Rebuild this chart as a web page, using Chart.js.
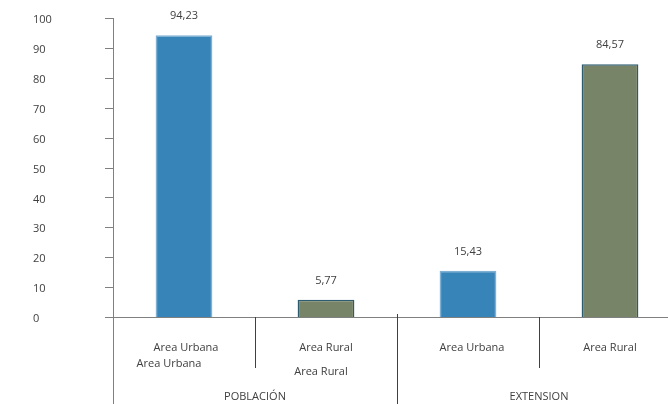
<!DOCTYPE html>
<html>
<head>
<meta charset="utf-8">
<script src="https://cdn.jsdelivr.net/npm/chart.js@4"></script>
<style>
  html, body { margin: 0; padding: 0; background: #fff; overflow: hidden; }
  #wrap { width: 668px; height: 404px; overflow: hidden; }
</style>
</head>
<body>
<div id="wrap">
  <canvas id="chart" width="700" height="404"></canvas>
</div>
<script>
const categories = [
  ['Area Urbana', 'Area Urbana'],
  ['Area Rural', 'Area Rural'],
  ['Area Urbana'],
  ['Area Rural']
];
const groups = ['POBLACIÓN', 'EXTENSION'];
const values = [94.23, 5.77, 15.43, 84.57];
const yTicks = [0, 10, 20, 30, 40, 50, 60, 70, 80, 90, 100];

const BLUE = '#3784b9';
const BLUE_EDGE = '#7eb0d3';
const GREEN = '#788468';
const GREEN_EDGE = '#2c5c6e';

const FONT = '11px "Open Sans"';
const TEXT = '#404040';

// hand-drawn axes, dividers and labels in the spreadsheet style
const axesPlugin = {
  id: 'axesPlugin',
  afterDatasetsDraw(chart) {
    const { ctx, chartArea, scales: { x, y } } = chart;
    const base = y.getPixelForValue(0);
    const H = chart.height;
    ctx.save();

    // y axis line and ticks
    ctx.strokeStyle = '#808080';
    ctx.lineWidth = 1;
    ctx.beginPath();
    ctx.moveTo(chartArea.left + 0.5, y.getPixelForValue(100));
    ctx.lineTo(chartArea.left + 0.5, H);
    yTicks.forEach(v => {
      const py = Math.round(y.getPixelForValue(v)) + 0.5;
      ctx.moveTo(chartArea.left - 8, py);
      ctx.lineTo(chartArea.left, py);
    });
    // x axis line
    ctx.moveTo(chartArea.left - 8, Math.round(base) + 0.5);
    ctx.lineTo(chartArea.right, Math.round(base) + 0.5);
    ctx.stroke();

    // category dividers
    const step = (chartArea.right - chartArea.left) / categories.length;
    ctx.strokeStyle = '#404040';
    ctx.beginPath();
    for (let i = 1; i < categories.length; i++) {
      const px = Math.round(chartArea.left + step * i) + 0.5;
      const groupEdge = i === 2;
      ctx.moveTo(px, base - (groupEdge ? 3 : 0));
      ctx.lineTo(px, groupEdge ? H : base + 51);
    }
    ctx.stroke();

    ctx.font = FONT;
    ctx.fillStyle = TEXT;

    // y tick labels, left aligned
    ctx.textAlign = 'left';
    ctx.textBaseline = 'middle';
    yTicks.forEach(v => {
      ctx.fillText(String(v), 33, y.getPixelForValue(v) + 2);
    });

    // value labels above bars
    ctx.textAlign = 'center';
    const meta = chart.getDatasetMeta(0);
    meta.data.forEach((bar, i) => {
      ctx.fillText(values[i].toFixed(2).replace('.', ','), bar.x, bar.y - 19);
    });

    // category labels (second line sits a little left and lower)
    const lineShift = [[2, -15], [0, -5]];
    const lineY = [[0, 16], [0, 24]];
    categories.forEach((lines, i) => {
      const cx = x.getPixelForValue(i);
      lines.forEach((txt, j) => {
        const dx = lineShift[i] ? lineShift[i][j] : (i === 2 ? 4 : 0);
        const dy = lineY[i] ? lineY[i][j] : 0;
        ctx.fillText(txt, cx + dx, base + 31 + dy);
      });
    });

    // group labels
    groups.forEach((g, k) => {
      const gx = chartArea.left + step * (k * 2 + 1);
      ctx.fillText(g, gx, base + 80);
    });

    ctx.restore();
  }
};

new Chart(document.getElementById('chart'), {
  type: 'bar',
  data: {
    labels: categories,
    datasets: [{
      data: values,
      backgroundColor: [BLUE, GREEN, BLUE, GREEN],
      borderColor: [BLUE_EDGE, GREEN_EDGE, BLUE_EDGE, GREEN_EDGE],
      borderWidth: 1.5,
      categoryPercentage: 1,
      barPercentage: 0.4
    }]
  },
  options: {
    responsive: false,
    animation: false,
    layout: { padding: { left: 113, right: 19, top: 18, bottom: 87 } },
    plugins: {
      legend: { display: false },
      tooltip: { enabled: false }
    },
    scales: {
      x: { display: false },
      y: { display: false, min: 0, max: 100 }
    }
  },
  plugins: [axesPlugin]
});
</script>
</body>
</html>
